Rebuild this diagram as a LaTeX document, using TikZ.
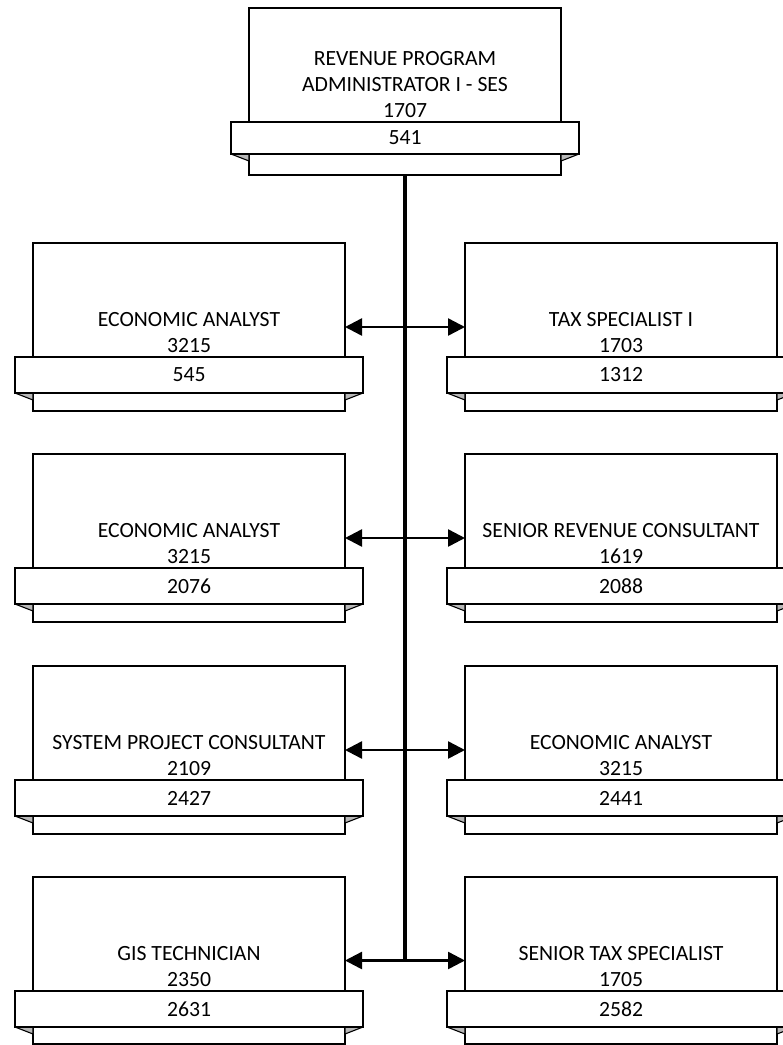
\documentclass[tikz,border=0pt]{standalone}
\usepackage{fontspec}
\setmainfont{Carlito}
\usetikzlibrary{arrows.meta}

\tikzset{
  labelfont/.style={font=\fontsize{21.7}{26}\selectfont},
  postbox/.style={draw=black, fill=white, line width=1.6pt, minimum width=312pt,
    inner sep=0pt, outer sep=0pt, anchor=north west},
  bannerbox/.style={draw=black, fill=white, line width=1.6pt, minimum width=348pt,
    inner sep=0pt, outer sep=0pt, anchor=north west, labelfont},
  foldtab/.style={draw=black, fill=black!28, line width=1.1pt, line join=round},
  titletext/.style={anchor=south, inner sep=0pt, outer sep=0pt, align=center,
    text depth=0pt, labelfont},
  spine/.style={line width=3.5pt},
  link/.style={line width=2.5pt,
    {Triangle[length=17pt,width=17pt]}-{Triangle[length=17pt,width=17pt]}},
}

% #1 name, #2 left, #3 top, #4 box height, #5 banner height, #6 title, #7 number
\newcommand\orgpost[7]{%
  \node[postbox, minimum height=#4pt] (#1) at (#2,#3) {};
  \filldraw[foldtab] (#2-18,#3+114+#5) -- (#2,#3+114+#5) -- (#2,#3+121+#5) -- cycle;
  \filldraw[foldtab] (#2+330,#3+114+#5) -- (#2+312,#3+114+#5) -- (#2+312,#3+121+#5) -- cycle;
  \node[bannerbox, minimum height=#5pt] (#1-num) at (#2-18,#3+114) {#7};
  \node[titletext] (#1-title) at (#2+156,#3+109) {#6};
}

\begin{document}
\begin{tikzpicture}[x=1pt, y=-1pt]
  \clip (0,0) rectangle (783,1045);

  \orgpost{top}{249}{8}{167}{32}{REVENUE PROGRAM\\ADMINISTRATOR I - SES\\1707}{541}

  \orgpost{l1}{33}{243}{168}{36}{ECONOMIC ANALYST\\3215}{545}
  \orgpost{r1}{465}{243}{168}{36}{TAX SPECIALIST I\\1703}{1312}
  \orgpost{l2}{33}{454}{168}{36}{ECONOMIC ANALYST\\3215}{2076}
  \orgpost{r2}{465}{454}{168}{36}{SENIOR REVENUE CONSULTANT\\1619}{2088}
  \orgpost{l3}{33}{666}{168}{36}{SYSTEM PROJECT CONSULTANT\\2109}{2427}
  \orgpost{r3}{465}{666}{168}{36}{ECONOMIC ANALYST\\3215}{2441}
  \orgpost{l4}{33}{877}{167}{36}{GIS TECHNICIAN\\2350}{2631}
  \orgpost{r4}{465}{877}{167}{36}{SENIOR TAX SPECIALIST\\1705}{2582}

  % vertical trunk from the head post
  \coordinate (trunkend) at (405,961);
  \draw[spine] (top.south) -- (trunkend);

  % two-way links between paired posts
  \draw[link] (l1.east) -- (r1.west);
  \draw[link] (l2.east) -- (r2.west);
  \draw[link] (l3.east) -- (r3.west);
  \draw[link] (l4.east) -- (r4.west);
\end{tikzpicture}
\end{document}
